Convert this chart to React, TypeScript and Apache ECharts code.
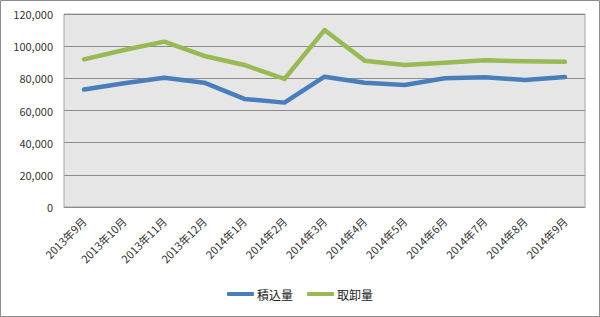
import React, { useEffect, useRef } from "react";
import * as echarts from "echarts";

const categories = [
  "2013年9月", "2013年10月", "2013年11月", "2013年12月",
  "2014年1月", "2014年2月", "2014年3月", "2014年4月",
  "2014年5月", "2014年6月", "2014年7月", "2014年8月", "2014年9月",
];
const loading = [73000, 76900, 80400, 77300, 67200, 64900, 81000, 77300, 75900, 80000, 80600, 79000, 80800];
const unloading = [91800, 97600, 102800, 93900, 88300, 79600, 110000, 91000, 88300, 89700, 91200, 90600, 90300];
const seriesNames = ["積込量", "取卸量"];

export default function App() {
  const ref = useRef<HTMLDivElement>(null);
  useEffect(() => {
    document.body.style.margin = "0";
    const chart = echarts.init(ref.current!, null, { renderer: "svg" });
    const font = "'Noto Sans CJK JP', 'Noto Sans', sans-serif";
    chart.setOption({
      animation: false,
      backgroundColor: "#ffffff",
      graphic: [
        {
          type: "rect",
          shape: { x: 0.5, y: 0.5, width: 599, height: 316 },
          style: { fill: "none", stroke: "#8c8c8c", lineWidth: 1 },
          silent: true,
        },
      ],
      grid: {
        left: 64,
        right: 15,
        top: 14,
        bottom: 110,
        show: true,
        backgroundColor: "#e6e6e6",
        borderColor: "#a6a6a6",
        borderWidth: 1,
      },
      legend: {
        bottom: 12,
        left: "center",
        itemWidth: 27,
        itemHeight: 4,
        itemGap: 14,
        icon: "roundRect",
        textStyle: { fontSize: 12, color: "#222", fontFamily: font, padding: [0, 0, 0, -2] },
        data: seriesNames,
      },
      xAxis: {
        type: "category",
        data: categories,
        boundaryGap: true,
        axisLine: { show: true, lineStyle: { color: "#8c8c8c" } },
        axisTick: { show: false },
        axisLabel: {
          rotate: 45,
          fontSize: 11,
          color: "#333",
          fontFamily: font,
          margin: 12,
          interval: 0,
        },
      },
      yAxis: {
        type: "value",
        min: 0,
        max: 120000,
        interval: 20000,
        axisLine: { show: false },
        axisTick: { show: false },
        splitLine: { show: true, lineStyle: { color: "#8c8c8c", width: 1 } },
        axisLabel: {
          fontSize: 11,
          color: "#333",
          fontFamily: font,
          margin: 11,
          formatter: (v: number) => v.toLocaleString("en-US"),
        },
      },
      series: [
        {
          name: seriesNames[0],
          type: "line",
          data: loading,
          symbol: "none",
          lineStyle: { width: 4.5, color: "#4a7ebb", cap: "round", join: "round" },
          itemStyle: { color: "#4a7ebb" },
        },
        {
          name: seriesNames[1],
          type: "line",
          data: unloading,
          symbol: "none",
          lineStyle: { width: 4.5, color: "#98b954", cap: "round", join: "round" },
          itemStyle: { color: "#98b954" },
        },
      ],
    });
    return () => chart.dispose();
  }, []);
  return <div ref={ref} style={{ width: 600, height: 317 }} />;
}
